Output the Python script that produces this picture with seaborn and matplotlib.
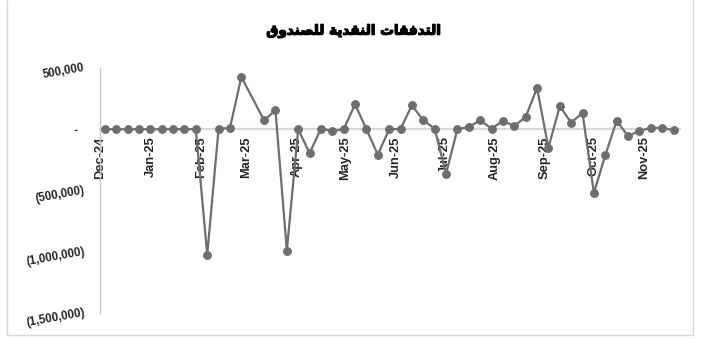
import matplotlib
matplotlib.use("Agg")
import matplotlib.pyplot as plt
import matplotlib.dates as mdates
import matplotlib.patheffects as pe
from matplotlib.ticker import FuncFormatter, FixedLocator
from matplotlib.lines import Line2D
import seaborn as sns
import pandas as pd

# ---------------- data ----------------
title_text = "التدفقات النقدية للصندوق"

dates = [
    "2024-12-04", "2024-12-11", "2024-12-18", "2024-12-25", "2025-01-01",
    "2025-01-08", "2025-01-15", "2025-01-22", "2025-01-29", "2025-02-05",
    "2025-02-12", "2025-02-19", "2025-02-26", "2025-03-12", "2025-03-19",
    "2025-03-26", "2025-04-02", "2025-04-09", "2025-04-16", "2025-04-23",
    "2025-04-30", "2025-05-07", "2025-05-14", "2025-05-21", "2025-05-28",
    "2025-06-04", "2025-06-11", "2025-06-18", "2025-06-25", "2025-07-02",
    "2025-07-09", "2025-07-16", "2025-07-23", "2025-07-30", "2025-08-06",
    "2025-08-13", "2025-08-20", "2025-08-27", "2025-09-03", "2025-09-10",
    "2025-09-17", "2025-09-24", "2025-10-01", "2025-10-08", "2025-10-15",
    "2025-10-22", "2025-10-29", "2025-11-05", "2025-11-12", "2025-11-19",
]

cash_flow = [
    0, 0, 0, 0, 0,
    0, 0, 0, 0, -1025000,
    5000, 10000, 427000, 73000, 155000,
    -990000, 0, -195000, 5000, -14000,
    0, 204000, 0, -207000, 0,
    3000, 196000, 73000, 5000, -362000,
    0, 19000, 73000, 5000, 68000,
    27000, 100000, 337000, -150000, 188000,
    54000, 133000, -520000, -212000, 68000,
    -55000, -14000, 11000, 11000, -8000,
]

y_ticks = [500000, 0, -500000, -1000000, -1500000]
month_ticks = ["2024-12-01", "2025-01-01", "2025-02-01", "2025-03-01",
               "2025-04-01", "2025-05-01", "2025-06-01", "2025-07-01",
               "2025-08-01", "2025-09-01", "2025-10-01", "2025-11-01"]
x_range = ["2024-12-01", "2025-11-23"]

# ---------------- minimal Arabic shaping ----------------
FORMS = {
    "ا": (0xFE8D, 0xFE8E, None, None),
    "ل": (0xFEDD, 0xFEDE, 0xFEDF, 0xFEE0),
    "ت": (0xFE95, 0xFE96, 0xFE97, 0xFE98),
    "د": (0xFEA9, 0xFEAA, None, None),
    "ف": (0xFED1, 0xFED2, 0xFED3, 0xFED4),
    "ق": (0xFED5, 0xFED6, 0xFED7, 0xFED8),
    "ن": (0xFEE5, 0xFEE6, 0xFEE7, 0xFEE8),
    "ي": (0xFEF1, 0xFEF2, 0xFEF3, 0xFEF4),
    "ة": (0xFE93, 0xFE94, None, None),
    "ص": (0xFEB9, 0xFEBA, 0xFEBB, 0xFEBC),
    "و": (0xFEED, 0xFEEE, None, None),
}


def shape(text):
    out = []
    for i, ch in enumerate(text):
        if ch not in FORMS:
            out.append(ch)
            continue
        f = FORMS[ch]
        prev = text[i - 1] if i > 0 else ""
        nxt = text[i + 1] if i + 1 < len(text) else ""
        prev_join = prev in FORMS and FORMS[prev][2] is not None
        next_join = nxt in FORMS and f[2] is not None
        if prev_join and next_join:
            code = f[3]
        elif prev_join:
            code = f[1]
        elif next_join:
            code = f[2]
        else:
            code = f[0]
        out.append(chr(code))
    return "".join(out)[::-1]


# ---------------- plot ----------------
sns.set_theme(style="white")
plt.rcParams["font.family"] = ["Liberation Sans", "DejaVu Sans"]

df = pd.DataFrame({"date": pd.to_datetime(dates), "value": cash_flow})

W, H = 702, 339
fig = plt.figure(figsize=(W / 100, H / 100), dpi=100)
ax = fig.add_axes([100 / W, 1 - 313 / H, 580 / W, 245 / H])

line_color = "#6e6e6e"
sns.lineplot(data=df, x="date", y="value", ax=ax, color=line_color,
             linewidth=1.6, marker="o", markersize=5.6,
             markeredgecolor=line_color, markerfacecolor=line_color, zorder=3)

ax.set_xlim(pd.Timestamp(x_range[0]), pd.Timestamp(x_range[1]))
ax.set_ylim(min(y_ticks), max(y_ticks))

for s in ["top", "right"]:
    ax.spines[s].set_visible(False)
ax.spines["left"].set_color("#c8c8c8")
ax.spines["left"].set_linewidth(1.0)
ax.spines["bottom"].set_position(("data", 0))
ax.spines["bottom"].set_color("#d9d9d9")
ax.spines["bottom"].set_linewidth(1.5)
ax.spines["bottom"].set_zorder(1)

ax.xaxis.set_major_locator(FixedLocator(mdates.date2num(pd.to_datetime(month_ticks))))
ax.xaxis.set_major_formatter(mdates.DateFormatter("%b-%y"))
ax.tick_params(axis="x", length=0, pad=5, labelsize=9.3, labelcolor="#262626")
for lab in ax.get_xticklabels():
    lab.set_rotation(90)
    lab.set_rotation_mode("anchor")
    lab.set_ha("right")
    lab.set_va("center")
    lab.set_fontweight("bold")

ax.set_yticks(y_ticks)


def fmt(v, _):
    if v == 0:
        return "-  "
    if v < 0:
        return "({:,.0f})".format(-v)
    return "{:,.0f}".format(v)


ax.yaxis.set_major_formatter(FuncFormatter(fmt))
ax.tick_params(axis="y", length=0, pad=11, labelsize=8.3, labelcolor="#262626")
for lab in ax.get_yticklabels():
    lab.set_rotation(10)
    lab.set_rotation_mode("anchor")
    lab.set_ha("right")
    lab.set_va("center")
    lab.set_fontweight("bold")

ax.set_xlabel("")
ax.set_ylabel("")
ax.grid(False)

fig.text(354 / W, 1 - 31 / H, shape(title_text), ha="center", va="center",
         fontsize=9.8, fontweight="bold", color="#000000",
         family=["DejaVu Sans"],
         path_effects=[pe.withStroke(linewidth=0.9, foreground="#000000")])

# chart-area border
bc = "#d9d9d9"
fig.add_artist(Line2D([7 / W, 7 / W], [1 - 335 / H, 1], color=bc, lw=1.0))
fig.add_artist(Line2D([693 / W, 693 / W], [1 - 335 / H, 1], color=bc, lw=1.0))
fig.add_artist(Line2D([7 / W, 693 / W], [1 - 335 / H, 1 - 335 / H], color=bc, lw=1.0))

fig.savefig("out.png", dpi=100)
